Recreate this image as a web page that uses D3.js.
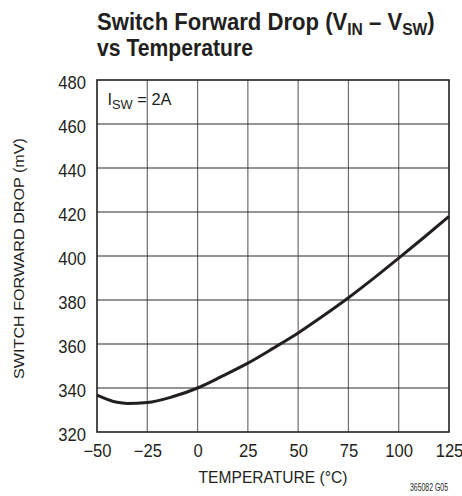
<!DOCTYPE html>
<html><head><meta charset="utf-8">
<script src="https://cdn.jsdelivr.net/npm/d3@7"></script>
<style>
body{margin:0;background:#fff;}
svg text{font-family:"Liberation Sans","Helvetica Neue",Arial,sans-serif;fill:#231f20;}
</style></head>
<body>
<svg id="c" width="462" height="496"></svg>
<script>
const temperature = [-50, -40, -35, -25, -12.5, 0, 12.5, 25, 37.5, 50, 62.5, 75, 87.5, 100, 112.5, 125];
const forwardDrop = [336.8, 333.5, 333.0, 333.4, 336.0, 340.0, 345.5, 351.3, 358.0, 365.0, 372.8, 381.0, 389.8, 399.0, 408.4, 418.0];
const xTicks = [-50, -25, 0, 25, 50, 75, 100, 125];
const yTicks = [320, 340, 360, 380, 400, 420, 440, 460, 480];

const svg = d3.select("#c");
const L = 97, R = 449, T = 80, B = 432;
const x = d3.scaleLinear().domain([-50, 125]).range([L, R]);
const y = d3.scaleLinear().domain([320, 480]).range([B, T]);

// horizontally condense a text element about an anchor x
function squeeze(node, s, ax) {
  d3.select(node).attr("transform", `translate(${ax},0) scale(${s},1) translate(${-ax},0)`);
}
function fitWidth(sel, target, ax) {
  const w = sel.node().getBBox().width;
  squeeze(sel.node(), target / w, ax);
}

// grid
svg.append("g").selectAll("line").data(xTicks.slice(1, -1)).join("line")
  .attr("x1", d => x(d)).attr("x2", d => x(d)).attr("y1", T).attr("y2", B)
  .attr("stroke", "#6d6d6d").attr("stroke-width", 1.2);
svg.append("g").selectAll("line").data(yTicks.slice(1, -1)).join("line")
  .attr("y1", d => y(d)).attr("y2", d => y(d)).attr("x1", L).attr("x2", R)
  .attr("stroke", "#2a2a2a").attr("stroke-width", 1.2);
svg.append("rect").attr("x", L).attr("y", T).attr("width", R - L).attr("height", B - T)
  .attr("fill", "none").attr("stroke", "#231f20").attr("stroke-width", 1.6);

const K = 0.95; // condense factor for tick labels

// axes labels
const fmt = d => d < 0 ? "\u2212" + Math.abs(d) : String(d);
const xAxis = d3.axisBottom(x).tickValues(xTicks).tickFormat(fmt).tickSize(0).tickPadding(12.5);
const gx = svg.append("g").attr("transform", `translate(0,${B})`).call(xAxis);
gx.select(".domain").remove();
gx.selectAll("text").attr("font-size", 17.5).attr("font-family", null).attr("fill", null)
  .each(function() { squeeze(this, K, 0); });

const yAxis = d3.axisLeft(y).tickValues(yTicks).tickSize(0).tickPadding(11);
const gy = svg.append("g").attr("transform", `translate(${L},0)`).call(yAxis);
gy.select(".domain").remove();
gy.selectAll("text").attr("font-size", 17.5).attr("font-family", null).attr("fill", null).attr("dy", "0.5em")
  .each(function() { squeeze(this, K, -11); });

// curve
svg.append("path").datum(temperature.map((t, i) => [t, forwardDrop[i]]))
  .attr("fill", "none").attr("stroke", "#231f20").attr("stroke-width", 3)
  .attr("d", d3.line().x(d => x(d[0])).y(d => y(d[1])).curve(d3.curveMonotoneX));

// titles
const t1 = svg.append("text").attr("x", 97).attr("y", 30).attr("font-size", 24).attr("font-weight", "bold");
t1.append("tspan").text("Switch Forward Drop (V");
t1.append("tspan").text("IN").attr("font-size", 17).attr("dy", 5);
t1.append("tspan").text(" \u2013 V").attr("dy", -5);
t1.append("tspan").text("SW").attr("font-size", 17).attr("dy", 5);
t1.append("tspan").text(")").attr("dy", -5);
fitWidth(t1, 338, 97);
const t2 = svg.append("text").attr("x", 97).attr("y", 56).attr("font-size", 24).attr("font-weight", "bold").text("vs Temperature");
fitWidth(t2, 156, 97);

const xt = svg.append("text").attr("x", 273).attr("y", 483).attr("text-anchor", "middle").attr("font-size", 17)
  .text("TEMPERATURE (\u00B0C)");
fitWidth(xt, 149, 273);

const yt = svg.append("text").attr("text-anchor", "middle").attr("font-size", 15).text("SWITCH FORWARD DROP (mV)");
const yw = yt.node().getBBox().width;
yt.attr("transform", `translate(23.5,258.5) rotate(-90) scale(${241 / yw},1)`);

const lab = svg.append("text").attr("x", 107.5).attr("y", 105).attr("font-size", 16);
lab.append("tspan").text("I");
lab.append("tspan").text("SW").attr("font-size", 12.5).attr("dy", 4);
lab.append("tspan").text(" = 2A").attr("dy", -4);
fitWidth(lab, 64.5, 107.5);

const fn = svg.append("text").attr("x", 448).attr("y", 491).attr("text-anchor", "end").attr("font-size", 11).text("365082 G05");
fitWidth(fn, 38, 448);
</script>
</body></html>
